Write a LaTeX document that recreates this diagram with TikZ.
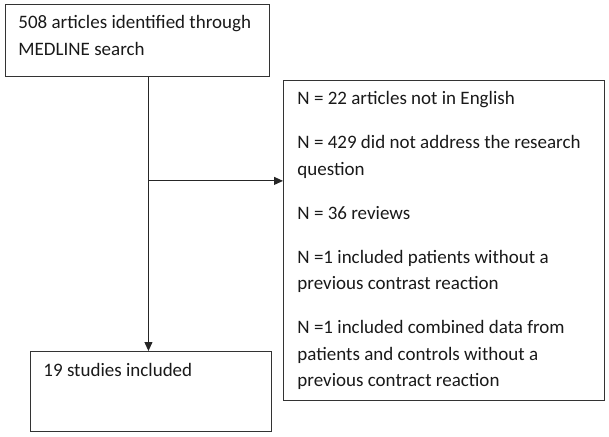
\documentclass[tikz,border=0pt]{standalone}
\usepackage{fontspec}
\setmainfont{Carlito}
\usepackage{tikz}
\usetikzlibrary{arrows.meta}
\usetikzlibrary{positioning,calc}
\tikzset{
    every node/.style={font=\fontsize{19}{26.5}\selectfont},
    flowbox/.style={
        draw=black!80,
        text=black!90,
        line width=0.9pt,
        rectangle,
        anchor=north west,
        align=flush left,
        inner ysep=0pt
    },
    flowarrow/.style={
        draw=black!85,
        line width=1pt,
        -{Triangle[length=9pt, width=8pt]}
    }
}

\begin{document}
\begin{tikzpicture}[x=1pt, y=-1pt]
  % Fix the page to the size of the figure
  \useasboundingbox (0,0) rectangle (609,436);

  % Create the boxes of the flow chart
  \node[flowbox, inner xsep=13pt, text width=238pt, minimum height=72pt, text height=14pt, text depth=37pt] (search) at (5,4)
    {508 articles identified through\\MEDLINE search};
  \node[flowbox, inner xsep=14pt, text width=293pt, minimum height=320pt] (excluded) at (283,80)
    {N = 22 articles not in English\\[17.5pt]
     N = 429 did not address the research\\question\\[17.5pt]
     N = 36 reviews\\[17.5pt]
     N =1 included patients without a\\previous contrast reaction\\[17.5pt]
     N =1 included combined data from\\patients and controls without a\\previous contract reaction};
  \node[flowbox, inner xsep=13pt, text width=215pt, minimum height=80pt, text height=14pt, text depth=44pt] (included) at (30,351)
    {19 studies included};

  % Connect the boxes
  \coordinate (split) at ($(search.south)+(11,0)$);
  \draw[flowarrow] (split) -- (split |- included.north);
  \coordinate (branch) at ($(split)+(0,104)$);
  \draw[flowarrow] (branch) -- (branch -| excluded.west);
\end{tikzpicture}
\end{document}
